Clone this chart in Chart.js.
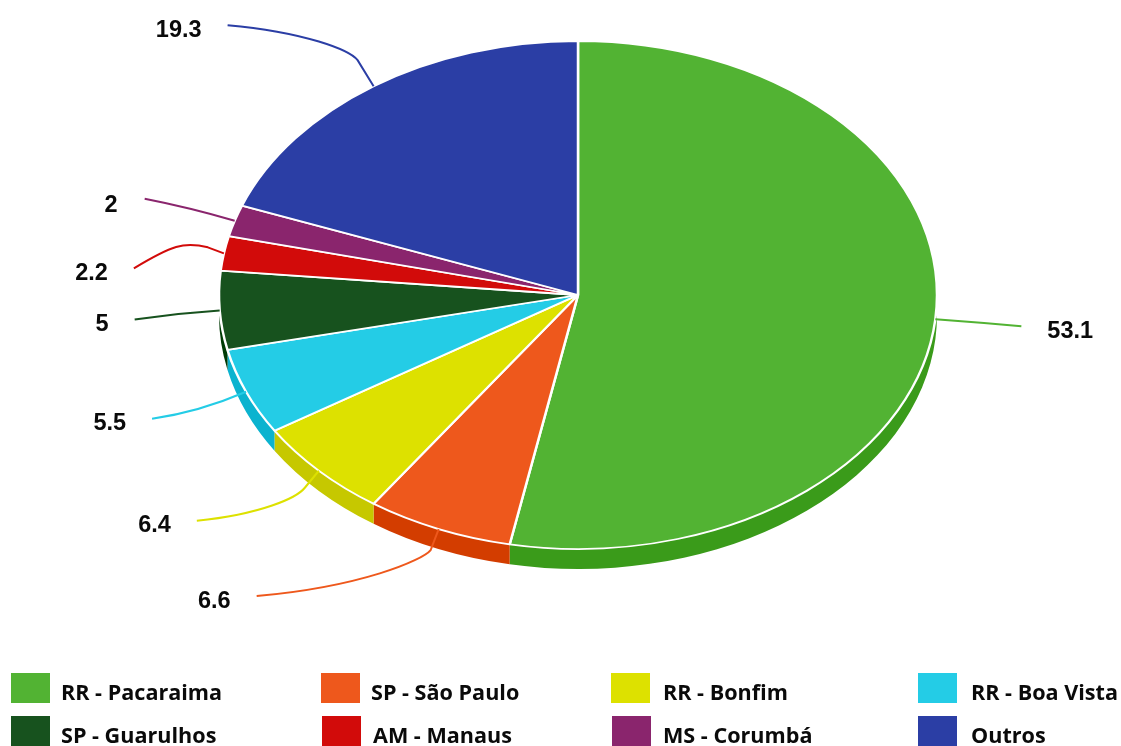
<!DOCTYPE html>
<html lang="pt-BR">
<head>
<meta charset="utf-8">
<title>Pizza por município</title>
<script src="https://cdn.jsdelivr.net/npm/chart.js@4"></script>
<style>
    html, body { margin: 0; padding: 0; background: #fff; overflow: hidden; }
    #area { position: relative; width: 1121px; height: 746px; overflow: hidden; }
    #grafico { position: absolute; left: 0; top: 0; }
    .caixa { position: absolute; width: 39px; height: 30px; }
    .rotulo {
        position: absolute;
        font: 700 21.6px "Open Sans", sans-serif;
        color: #0a0a0a;
        line-height: 30px;
        white-space: nowrap;
    }
</style>
</head>
<body>
<div id="area">
    <canvas id="grafico" width="1121" height="746"></canvas>
</div>
<script>
const categorias = ['RR - Pacaraima', 'SP - São Paulo', 'RR - Bonfim', 'RR - Boa Vista',
    'SP - Guarulhos', 'AM - Manaus', 'MS - Corumbá', 'Outros'];
const valores = [53.1, 6.6, 6.4, 5.5, 5, 2.2, 2, 19.3];
const cores = ['#52b333', '#ee581c', '#dde100', '#24cce6', '#17521e', '#d20b0a', '#8a256d', '#2b3ea5'];
const coresLaterais = ['#3a9b1a', '#d33d00', '#c6c800', '#0bb3cf', '#003b05', '#b90000', '#710c54', '#12258c'];

// Achatamento da pizza e altura da lateral
const RAIO = 359;
const ACHATAMENTO = 254 / 359;
const PROFUNDIDADE = 20;

// Caminho de cada linha guia, relativo à borda da fatia: joelho ou curva, e ponta
const guias = [
    { ponta: [86, 7] },
    { joelho: [-8, 21], ponta: [-182, 67] },
    { joelho: [-14, 17], ponta: [-122, 50] },
    { dobra: 0.75, ponta: [-94, 27] },
    { dobra: 0.3, ponta: [-85, 9] },
    { curva: [[-40, -12], [-52, -8]], ponta: [-90, 15] },
    { dobra: 0.6, ajuste: [-1, 2], ponta: [-90, -22] },
    { joelho: [-16, -26], ponta: [-146, -61] }
];

const pizzaAchatada = {
    id: 'pizzaAchatada',
    beforeDatasetsDraw(chart) {
        const ctx = chart.ctx;
        const arcos = chart.getDatasetMeta(0).data;

        // Lateral da pizza: só a metade de baixo aparece
        ctx.save();
        arcos.forEach((arco, i) => {
            const { x, y, startAngle, endAngle, outerRadius } = arco.getProps(['x', 'y', 'startAngle', 'endAngle', 'outerRadius']);
            const ini = Math.max(startAngle, 0);
            const fim = Math.min(endAngle, Math.PI);
            if (fim <= ini) return;
            ctx.save();
            ctx.translate(x, y);
            ctx.scale(1, ACHATAMENTO);
            ctx.beginPath();
            ctx.arc(0, 0, outerRadius, ini, fim);
            ctx.arc(0, PROFUNDIDADE / ACHATAMENTO, outerRadius, fim, ini, true);
            ctx.closePath();
            ctx.restore();
            ctx.fillStyle = coresLaterais[i];
            ctx.fill();
        });
        ctx.restore();

        // Achata as fatias em torno do centro
        const { x, y } = arcos[0].getProps(['x', 'y']);
        ctx.save();
        ctx.translate(x, y);
        ctx.scale(1, ACHATAMENTO);
        ctx.translate(-x, -y);
    },
    afterDatasetsDraw(chart) {
        const ctx = chart.ctx;
        ctx.restore();

        chart.getDatasetMeta(0).data.forEach((arco, i) => {
            const { x, y, startAngle, endAngle, outerRadius } = arco.getProps(['x', 'y', 'startAngle', 'endAngle', 'outerRadius']);
            const meio = (startAngle + endAngle) / 2;
            const bx = x + outerRadius * Math.cos(meio);
            const by = y + outerRadius * ACHATAMENTO * Math.sin(meio);
            const guia = guias[i];
            const px = bx + guia.ponta[0];
            const py = by + guia.ponta[1];

            ctx.beginPath();
            ctx.moveTo(bx, by);
            if (guia.joelho) {
                const jx = bx + guia.joelho[0];
                const jy = by + guia.joelho[1];
                ctx.lineTo(jx, jy);
                ctx.bezierCurveTo(jx - 8, jy + (guia.ponta[1] > 0 ? 10 : -10), jx + (px - jx) * 0.4, py + (jy - py) * 0.2, px, py);
            } else if (guia.curva) {
                const [a, b] = guia.curva;
                ctx.lineTo(bx + a[0] * 0.4, by + a[1] * 0.5);
                ctx.bezierCurveTo(bx + a[0], by + a[1], bx + b[0], by + b[1], px, py);
            } else {
                const dobra = guia.dobra === undefined ? 0.45 : guia.dobra;
                ctx.quadraticCurveTo(bx + guia.ponta[0] * 0.5, by + guia.ponta[1] * dobra, px, py);
            }
            ctx.strokeStyle = cores[i];
            ctx.lineWidth = 2;
            ctx.stroke();

            // Valor da fatia ao lado da ponta da linha
            const direita = guia.ponta[0] > 0;
            const ajuste = guia.ajuste || [0, 0];
            ctx.font = 'bold 23.5px "Liberation Sans", Arial, sans-serif';
            ctx.fillStyle = '#0a0a0a';
            ctx.textAlign = direita ? 'left' : 'right';
            ctx.textBaseline = 'middle';
            ctx.fillText(String(valores[i]), px + (direita ? 26 : -26) + ajuste[0], py + 5 + ajuste[1]);
        });
    }
};

new Chart(document.getElementById('grafico'), {
    type: 'pie',
    data: {
        labels: categorias,
        datasets: [{
            data: valores,
            backgroundColor: cores,
            borderColor: '#ffffff',
            borderWidth: 2.5,
            radius: RAIO
        }]
    },
    options: {
        responsive: false,
        animation: false,
        layout: { padding: { left: 35, right: 0, top: 0, bottom: 156 } },
        plugins: {
            legend: { display: false },
            tooltip: { enabled: false }
        }
    },
    plugins: [pizzaAchatada]
});

// Legenda em quatro colunas
const legendaCaixaX = [11, 321, 611, 918, 11, 322, 612, 918];
const legendaTextoX = [61, 371, 663, 971, 61, 373, 663, 971];
const legendaY = [673, 673, 673, 673, 716, 716, 716, 716];

const area = document.getElementById('area');
categorias.forEach((nome, i) => {
    const caixa = document.createElement('div');
    caixa.className = 'caixa';
    caixa.style.left = legendaCaixaX[i] + 'px';
    caixa.style.top = legendaY[i] + 'px';
    caixa.style.background = cores[i];
    area.appendChild(caixa);

    const rotulo = document.createElement('div');
    rotulo.className = 'rotulo';
    rotulo.style.left = legendaTextoX[i] + 'px';
    rotulo.style.top = (legendaY[i] + 4) + 'px';
    rotulo.textContent = nome;
    area.appendChild(rotulo);
});
</script>
</body>
</html>
